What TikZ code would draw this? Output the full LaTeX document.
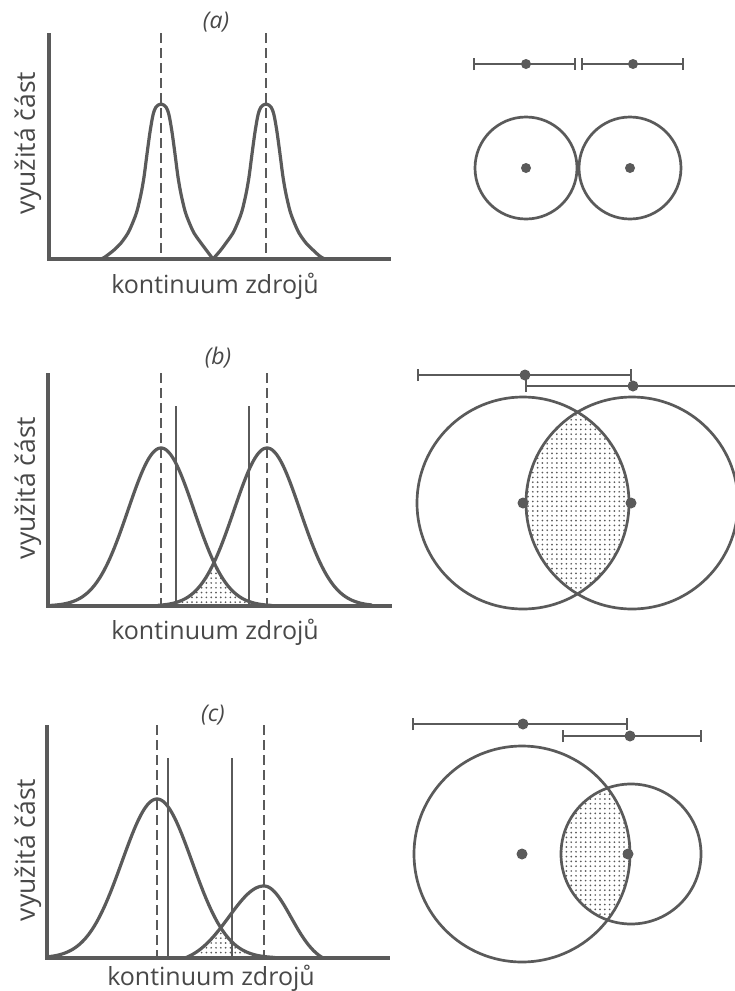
\documentclass[tikz,border=0pt]{standalone}
\usepackage{fontspec}
\setmainfont{Open Sans}
\usetikzlibrary{patterns.meta,arrows.meta}
\definecolor{ink}{HTML}{5A5A5A}
\definecolor{txt}{HTML}{484848}
\begin{document}
\begin{tikzpicture}[x=1pt,y=-1pt,
  declare function={
   gs(\tta,\ttb,\ttc)=exp(-((\tta-\ttb)^2)/(2*\ttc*\ttc));
  },
  curve/.style={ink,line width=3.2pt,line join=round},
  axis/.style={ink,line width=3.2pt},
  guide/.style={ink,line width=1.4pt,dash pattern=on 10pt off 5pt},
  thinline/.style={ink,line width=1.3pt},
  ring/.style={ink,line width=2.7pt},
  rangebar/.style={ink,line width=1.6pt,{Bar[width=12pt,line width=1.6pt]}-{Bar[width=12pt,line width=1.6pt]}},
  spot/.style={fill=ink},
  dotfill/.style={pattern={Dots[distance=4.8pt,radius=0.95pt]},pattern color=ink},
  lbl/.style={txt,font=\fontsize{25}{30}\selectfont,inner sep=0pt},
  ylbl/.style={txt,font=\fontsize{26.5}{30}\selectfont,inner sep=0pt,rotate=90},
  tag/.style={txt,font=\fontsize{23}{26}\selectfont\itshape,inner sep=0pt},
]
\fill[white] (0,0) rectangle (735,991);
\useasboundingbox (0,0) rectangle (735,991);

% ================= (a) =================
\node[tag] (ta) at (216,22) {(a)};
\draw[curve] plot[smooth,tension=0.5] coordinates {(90,259) (101,259) (107,255.5) (114,250) (121,243) (128,233) (133,222) (137,211) (141,194) (144,177) (147,154) (150,132) (153,115) (156,107) (161,104) (166,107) (169,115) (172,132) (175,154) (178,177) (181,194) (185,211) (189,222) (194,233) (201,243) (207,251) (213,259)};
\draw[curve] plot[smooth,tension=0.5] coordinates {(213,259) (220,251) (226,243) (233,233) (238,222) (242,211) (246,194) (249,177) (252,154) (255,132) (258,115) (261,107) (266,104) (271,107) (274,115) (277,132) (280,154) (283,177) (286,194) (290,211) (294,222) (299,233) (306,243) (313,250) (319,255.5) (325,259) (336,259)};
\draw[guide] (161,33) -- (161,259);
\draw[guide] (266,33) -- (266,259);
\draw[axis] (49,33) -- (49,259) -- (391,259);
\node[ylbl] (ya) at (28,143) {využitá část};
\node[lbl,anchor=base] (xa) at (215,293) {kontinuum zdrojů};

\coordinate (a1l) at (473,64); \coordinate (a1r) at (576,64);
\coordinate (a2l) at (581,64); \coordinate (a2r) at (684,64);
\draw[rangebar] (a1l) -- (a1r);
\draw[rangebar] (a2l) -- (a2r);
\fill[spot] (526,64) circle[radius=5];
\fill[spot] (633,64) circle[radius=5];
\draw[ring] (526,168) circle[radius=51];
\draw[ring] (630,168) circle[radius=51];
\fill[spot] (526,168) circle[radius=5];
\fill[spot] (630,168) circle[radius=5];

% ================= (b) =================
\node[tag] (tb) at (218,358) {(b)};
\fill[dotfill] plot[domain=160:268,samples=120] (\x,{606-158*min(gs(\x,161,33),gs(\x,267,33))}) -- (268,606) -- (160,606) -- cycle;
\draw[curve] plot[domain=48:272,samples=160] (\x,{606-158*gs(\x,161,33)});
\draw[curve] plot[domain=158:372,samples=160] (\x,{606-158*gs(\x,267,33)});
\draw[guide] (161,373) -- (161,606);
\draw[guide] (267,373) -- (267,606);
\draw[thinline] (176,406) -- (176,606);
\draw[thinline] (249,406) -- (249,606);
\draw[axis] (48,373) -- (48,606) -- (392,606);
\node[ylbl] (yb) at (28,488) {využitá část};
\node[lbl,anchor=base] (xb) at (215,639) {kontinuum zdrojů};

\coordinate (b1l) at (417,375); \coordinate (b1r) at (632,375);
\coordinate (b2l) at (525,386); \coordinate (b2r) at (740,386);
\draw[rangebar] (b1l) -- (b1r);
\draw[rangebar] (b2l) -- (b2r);
\fill[spot] (525,375) circle[radius=5.5];
\fill[spot] (633,386) circle[radius=5.5];
\begin{scope}
  \clip (523,503) circle[radius=106];
  \fill[dotfill] (632,503) circle[radius=106];
\end{scope}
\draw[ring] (523,503) circle[radius=106];
\draw[ring] (632,503) circle[radius=106];
\fill[spot] (523,503) circle[radius=5.5];
\fill[spot] (631,503) circle[radius=5.5];

% ================= (c) =================
\node[tag] (tc) at (213,715) {(c)};
\fill[dotfill] plot[domain=185:275,samples=120] (\x,{958-max(0,min(159*gs(\x,157,35),72*(gs(\x,264,35)-0.0783)/0.9217))}) -- (275,958) -- (185,958) -- cycle;
\draw[curve] plot[domain=47:275,samples=160] (\x,{958-159*gs(\x,157,35)});
\draw[curve] plot[domain=185:264,samples=80] (\x,{958-72*(gs(\x,264,35)-0.0783)/0.9217})
   -- plot[domain=264:323,samples=60] (\x,{958-72*(gs(\x,264,27)-0.0918)/0.9082});
\draw[guide] (157,725) -- (157,958);
\draw[guide] (264,725) -- (264,958);
\draw[thinline] (168,758) -- (168,958);
\draw[thinline] (232,758) -- (232,958);
\draw[axis] (47,725) -- (47,958) -- (390,958);
\node[ylbl] (yc) at (28,850) {využitá část};
\node[lbl,anchor=base] (xc) at (211,985) {kontinuum zdrojů};

\coordinate (c1l) at (412,724); \coordinate (c1r) at (628,724);
\coordinate (c2l) at (562,736); \coordinate (c2r) at (702,736);
\draw[rangebar] (c1l) -- (c1r);
\draw[rangebar] (c2l) -- (c2r);
\fill[spot] (523,724) circle[radius=5.5];
\fill[spot] (630,736) circle[radius=5.5];
\begin{scope}
  \clip (522,854) circle[radius=108];
  \fill[dotfill] (631,854) circle[radius=70];
\end{scope}
\draw[ring] (522,854) circle[radius=108];
\draw[ring] (631,854) circle[radius=70];
\fill[spot] (522,854) circle[radius=5.5];
\fill[spot] (628,854) circle[radius=5.5];
\end{tikzpicture}
\end{document}
